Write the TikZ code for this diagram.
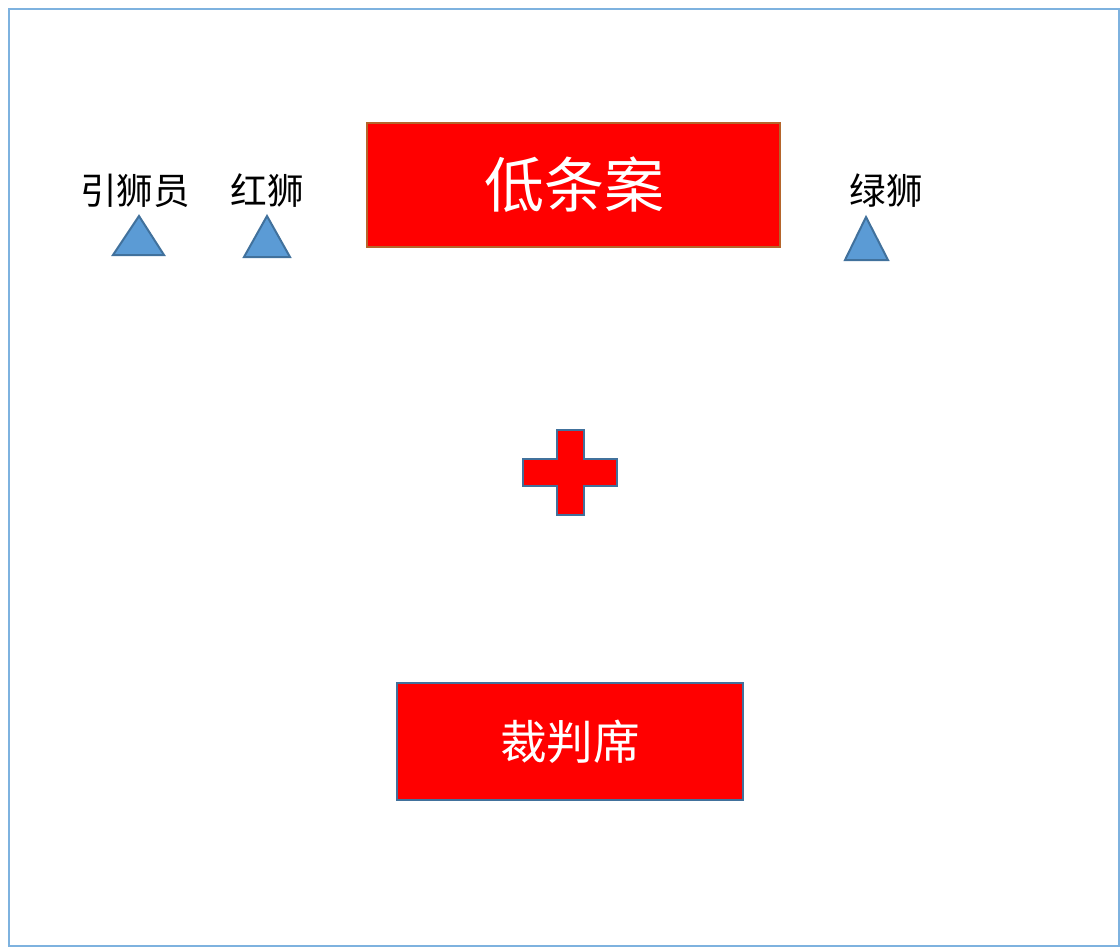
\documentclass[tikz,border=0pt]{standalone}
\usepackage{fontspec}
\newfontfamily\cjk{Noto Sans CJK SC}
\definecolor{frameblue}{HTML}{7EB2DF}
\definecolor{edgeblue}{HTML}{41719C}
\definecolor{triblue}{HTML}{5B9BD5}
\definecolor{edgebrown}{HTML}{B5652B}
\definecolor{boxred}{HTML}{FF0000}
\tikzset{
  redbox/.style={fill=boxred, line width=2.2pt},
  tri/.style={fill=triblue, draw=edgeblue, line width=1.5pt, line join=miter},
  lbl/.style={font=\cjk\fontsize{27.5}{31}\selectfont, text=black, inner sep=0pt},
  boxtext/.style={text=white, inner sep=0pt}
}
\begin{document}
\begin{tikzpicture}[x=0.75pt,y=-0.75pt]
\useasboundingbox (0,0) rectangle (1120,947);
% outer frame
\draw[frameblue, line width=1pt] (9,9) rectangle (1119,946);
% top table
\draw[redbox, draw=edgebrown] (367,123) rectangle (780,247);
\node[boxtext, font=\cjk\fontsize{45}{50}\selectfont] (table) at (574,185) {低条案};
% judges
\draw[redbox, draw=edgeblue] (397,683) rectangle (743,800);
\node[boxtext, font=\cjk\fontsize{35}{40}\selectfont] (judge) at (570,742) {裁判席};
% cross
\draw[fill=boxred, draw=edgeblue, line width=2pt]
  (557,430) -- (584,430) -- (584,459) -- (617,459) -- (617,486) -- (584,486)
  -- (584,515) -- (557,515) -- (557,486) -- (523,486) -- (523,459) -- (557,459) -- cycle;
% triangles
\draw[tri] (139,216) -- (164,255) -- (113,255) -- cycle;
\draw[tri] (267,216) -- (290,257) -- (244,257) -- cycle;
\draw[tri] (866,217) -- (888,260) -- (845,260) -- cycle;
% labels
\node[lbl] (guide) at (135,191) {引狮员};
\node[lbl] (red) at (267,191) {红狮};
\node[lbl] (green) at (886,191) {绿狮};
\end{tikzpicture}
\end{document}
